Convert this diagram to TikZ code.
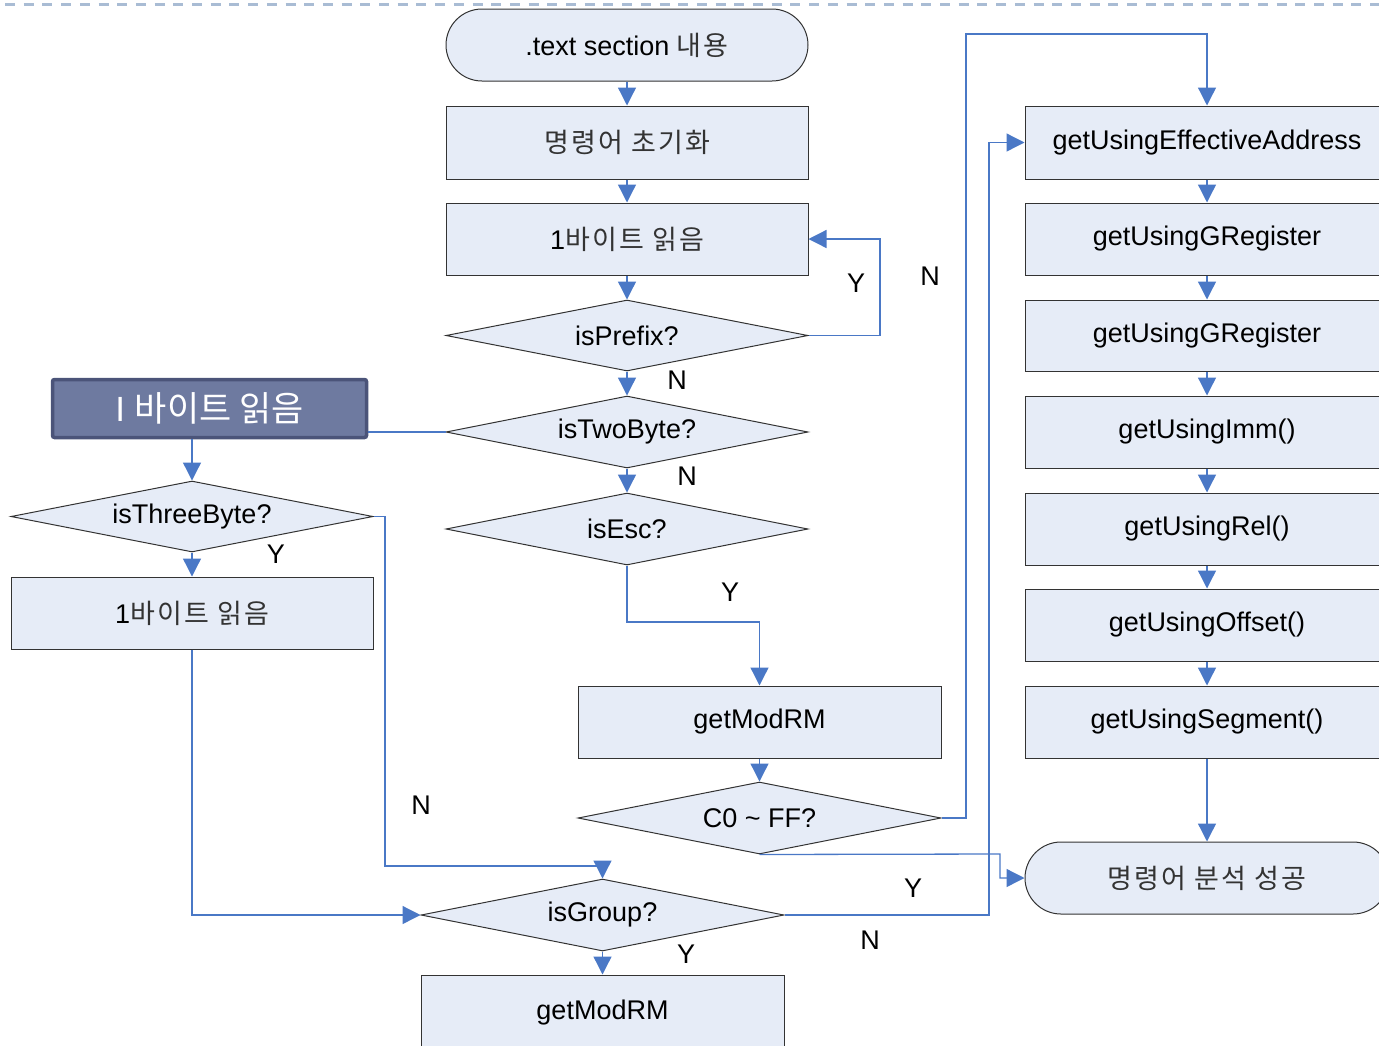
\documentclass[tikz,border=0pt]{standalone}
\usepackage{fontspec}
\setmainfont{Liberation Sans}
\newfontfamily\kr[LetterSpace=8]{Noto Sans CJK KR}
\newfontfamily\krplain{Noto Sans CJK KR}
\usetikzlibrary{shapes.geometric,arrows.meta}
\definecolor{boxfill}{HTML}{E6ECF7}
\definecolor{conncol}{HTML}{4A78C6}
\definecolor{darkfill}{HTML}{6E7AA0}
\definecolor{darkline}{HTML}{4B5479}
\definecolor{dashcol}{HTML}{A9BCD4}
\definecolor{krtext}{HTML}{333333}
\tikzset{
  base/.style={fill=boxfill,draw=black!80,line width=1pt,inner sep=0pt,font=\fontsize{27}{32}\selectfont},
  procbox/.style={base,rectangle,minimum width=362pt,minimum height=72pt},
  termbox/.style={base,rectangle,rounded corners=36pt,minimum width=362pt,minimum height=72pt},
  decbox/.style={base,diamond,shape aspect=5,minimum width=362pt,minimum height=72pt},
  rbox/.style={procbox,minimum width=364pt},
  conn/.style={draw=conncol,line width=1.3pt,-{Triangle[length=18pt,width=18pt,fill=conncol]}},
  plain/.style={draw=conncol,line width=1.3pt},
  lbl/.style={font=\fontsize{27}{32}\selectfont,inner sep=0pt}
}
\newcommand{\krt}[1]{{\kr\color{krtext}#1}}
\begin{document}
\begin{tikzpicture}[x=1pt,y=-1pt]
\useasboundingbox (0,0) rectangle (1379,1045);
\draw[dashcol,line width=3pt,dash pattern=on 10pt off 8.7pt] (5,4) -- (1379,4);
% main column
\node[termbox] (start) at (627,45) {.text section \krt{내용}};
\node[procbox,minimum height=73pt] (init) at (627,142.5) {\krt{명령어 초기화}};
\node[procbox] (read1) at (627,239) {1\krt{바이트 읽음}};
\node[decbox,minimum height=71pt] (prefix) at (627,335.5) {isPrefix?};
\node[decbox] (twobyte) at (627,432) {isTwoByte?};
\node[decbox] (esc) at (627,529) {isEsc?};
% left column
\node[rectangle,fill=darkfill,draw=darkline,line width=3.5pt,rounded corners=2pt,minimum width=314pt,minimum height=58pt,inner sep=0pt,text=white,font=\fontsize{35}{40}\selectfont] (dark) at (209.5,408.5) {I {\krplain 바이트 읽음}};
\node[decbox,minimum height=71pt] (three) at (192,516.5) {isThreeByte?};
\node[procbox] (read2) at (192,613) {1\krt{바이트 읽음}};
% middle lower
\node[procbox,minimum width=363pt] (modrm1) at (759.5,722) {getModRM};
\node[decbox,minimum width=363pt] (c0) at (759.5,818) {C0 \textasciitilde\ FF?};
\node[decbox,minimum width=363pt] (group) at (602.5,915) {isGroup?};
\node[procbox,minimum width=363pt,minimum height=76pt] (modrm2) at (602.5,1013) {\raisebox{3pt}{getModRM}};
% right column
\node[rbox,minimum height=73pt] (ea) at (1207,142.5) {getUsingEffectiveAddress};
\node[rbox] (greg1) at (1207,239) {getUsingGRegister};
\node[rbox,minimum height=71pt] (greg2) at (1207,335.5) {getUsingGRegister};
\node[rbox] (imm) at (1207,432) {getUsingImm()};
\node[rbox] (rel) at (1207,529) {getUsingRel()};
\node[rbox] (off) at (1207,625) {getUsingOffset()};
\node[rbox] (seg) at (1207,722) {getUsingSegment()};
\node[termbox,minimum width=364pt] (fin) at (1207,878) {\krt{명령어 분석 성공}};
% helper coordinates
\coordinate (k1) at (385,866);
\coordinate (k2) at (627,622);
\coordinate (k3) at (966,34);
\coordinate (k4) at (1000,854);
\coordinate (k5) at (989,915);
\coordinate (k6) at (880,335.5);
% connectors
\draw[conn] (start) -- (init);
\draw[conn] (init) -- (read1);
\draw[conn] (read1) -- (prefix);
\draw[conn] (prefix.east) -- (k6) |- (read1.east);
\draw[conn] (prefix) -- (twobyte);
\draw[conn] (twobyte) -- (esc);
\draw[plain] (dark.east |- twobyte.west) -- (twobyte.west);
\draw[conn] (dark.south -| three.north) -- (three.north);
\draw[conn] (three) -- (read2);
\draw[conn] (three.east) -| (k1) -| (group.north);
\draw[conn] (read2.south) |- (group.west);
\draw[conn] (esc.south) -- (k2) -| (modrm1.north);
\draw[conn] (modrm1) -- (c0);
\draw[conn] (c0.east) -| (k3) -| (ea.north);
\draw[conn] (c0.south) -- (k4) |- (fin.west);
\draw[conn] (group.east) -- (k5) |- (ea.west);
\draw[conn] (group) -- (modrm2);
\draw[conn] (ea) -- (greg1);
\draw[conn] (greg1) -- (greg2);
\draw[conn] (greg2) -- (imm);
\draw[conn] (imm) -- (rel);
\draw[conn] (rel) -- (off);
\draw[conn] (off) -- (seg);
\draw[conn] (seg) -- (fin);
% labels
\node[lbl] (l1) at (856,283) {Y};
\node[lbl] (l2) at (930,276) {N};
\node[lbl] (l3) at (677,380) {N};
\node[lbl] (l4) at (687,476) {N};
\node[lbl] (l5) at (730,592) {Y};
\node[lbl] (l6) at (276,554) {Y};
\node[lbl] (l7) at (421,805) {N};
\node[lbl] (l8) at (913,888) {Y};
\node[lbl] (l9) at (870,940) {N};
\node[lbl] (l10) at (686,954) {Y};
\end{tikzpicture}
\end{document}
